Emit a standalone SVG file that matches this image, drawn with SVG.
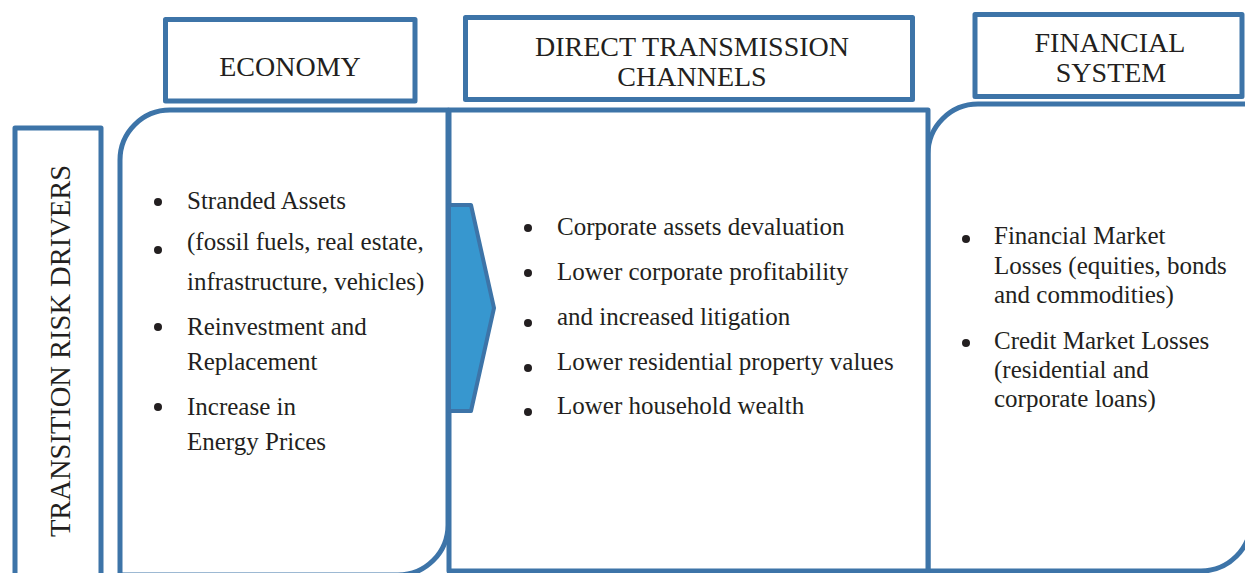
<svg xmlns="http://www.w3.org/2000/svg" width="1245" height="573" viewBox="0 0 1245 573">
<style>
.box{fill:#ffffff;stroke:#3d74a8;stroke-width:5;stroke-linejoin:round}
.hdr{font-family:"Liberation Serif","Times New Roman",serif;font-size:28px;fill:#231f20;text-anchor:middle}
.txt{font-family:"Liberation Serif","Times New Roman",serif;font-size:25px;fill:#231f20}
.dot{fill:#231f20}
</style>
<rect width="1245" height="573" fill="#ffffff"/>
<g id="drivers">
<rect class="box" x="15" y="128" width="86" height="470"/>
<text class="hdr" transform="translate(70,351) rotate(-90)" style="font-size:28.5px">TRANSITION RISK DRIVERS</text>
</g>
<g id="economy-header">
<rect class="box" x="165.5" y="19.5" width="249.5" height="81.5"/>
<text class="hdr" x="290" y="76">ECONOMY</text>
</g>
<g id="direct-header">
<rect class="box" x="465.5" y="17.5" width="447" height="82"/>
<text class="hdr" x="692" y="56">DIRECT TRANSMISSION</text>
<text class="hdr" x="692" y="86">CHANNELS</text>
</g>
<g id="financial-header">
<rect class="box" x="975" y="14.5" width="267" height="82"/>
<text class="hdr" x="1110" y="52">FINANCIAL</text>
<text class="hdr" x="1111" y="82">SYSTEM</text>
</g>
<g id="economy">
<path class="box" d="M120,575 L120,160 A50,50 0 0 1 170,110 L448,110 L448,525 A50,50 0 0 1 398,575 Z"/>
<circle class="dot" cx="158" cy="202" r="4"/>
<circle class="dot" cx="158" cy="250" r="4"/>
<circle class="dot" cx="158" cy="327" r="4"/>
<circle class="dot" cx="158" cy="407" r="4"/>
<text class="txt" x="187" y="209">Stranded Assets</text>
<text class="txt" x="187" y="250">(fossil fuels, real estate,</text>
<text class="txt" x="187" y="290">infrastructure, vehicles)</text>
<text class="txt" x="187" y="335">Reinvestment and</text>
<text class="txt" x="187" y="370">Replacement</text>
<text class="txt" x="187" y="415">Increase in</text>
<text class="txt" x="187" y="450">Energy Prices</text>
</g>
<g id="financial">
<path class="box" d="M928,571 L928,154 A50,50 0 0 1 978,104 L1251,104 L1251,521 A50,50 0 0 1 1201,571 Z"/>
<circle class="dot" cx="966" cy="239" r="4"/>
<circle class="dot" cx="966" cy="343" r="4"/>
<text class="txt" x="994" y="244">Financial Market</text>
<text class="txt" x="994" y="274">Losses (equities, bonds</text>
<text class="txt" x="994" y="303">and commodities)</text>
<text class="txt" x="994" y="349">Credit Market Losses</text>
<text class="txt" x="994" y="378">(residential and</text>
<text class="txt" x="994" y="407">corporate loans)</text>
</g>
<g id="direct">
<rect class="box" x="449" y="110" width="479" height="461"/>
<circle class="dot" cx="528" cy="228" r="4"/>
<circle class="dot" cx="528" cy="273" r="4"/>
<circle class="dot" cx="528" cy="323" r="4"/>
<circle class="dot" cx="528" cy="368" r="4"/>
<circle class="dot" cx="528" cy="412" r="4"/>
<text class="txt" x="557" y="235">Corporate assets devaluation</text>
<text class="txt" x="557" y="280">Lower corporate profitability</text>
<text class="txt" x="557" y="325">and increased litigation</text>
<text class="txt" x="557" y="370">Lower residential property values</text>
<text class="txt" x="557" y="414">Lower household wealth</text>
</g>
<g id="connectors">
<polygon points="449,205 471,205 494,308 471,411 449,411" fill="#3797cf" stroke="#3d74a8" stroke-width="4" stroke-linejoin="round"/>
</g>
</svg>
